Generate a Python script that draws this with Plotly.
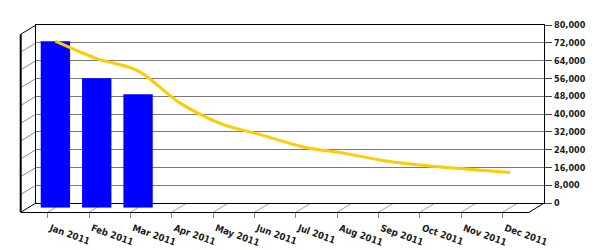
import plotly.graph_objects as go

months = ["Jan 2011", "Feb 2011", "Mar 2011", "Apr 2011", "May 2011", "Jun 2011",
          "Jul 2011", "Aug 2011", "Sep 2011", "Oct 2011", "Nov 2011", "Dec 2011"]
bar_values = [74800, 58200, 51000]
line_values = [74800, 67000, 61500, 47200, 37800, 32600, 27300, 24400, 21000, 18800, 17300, 15800]
y_ticks = list(range(0, 80001, 8000))

W, H = 600, 250
# pseudo-3D geometry (pixels)
BACK_L, BACK_R, BACK_T, BACK_B = 36.0, 544.3, 25.0, 203.0
DX, DY = 15.3, 9.3          # depth offset back -> front
XR = [-0.654, 11.642]       # category range shared by all x axes
YMAX = 80000

def px(x):
    return x / W

def py(y):
    return 1 - y / H

FRONT_L, FRONT_R, FRONT_B = BACK_L - DX, BACK_R - DX, BACK_B + DY
MID_L, MID_R = BACK_L - DX / 2, BACK_R - DX / 2
MID_T, MID_B = BACK_T + DY / 2, BACK_B + DY / 2

idx = list(range(len(months)))
yfont = dict(family="DejaVu Sans Condensed, DejaVu Sans", size=9, color="#1a1a1a", weight="bold")
xfont = dict(family="DejaVu Sans Condensed, DejaVu Sans", size=9.5, color="#1a1a1a", weight="bold")

fig = go.Figure()
# invisible anchor traces so the back-plane and front-floor axes are drawn
fig.add_trace(go.Scatter(x=[0.5], y=[0], mode="markers", marker=dict(opacity=0), xaxis="x", yaxis="y", hoverinfo="skip"))
fig.add_trace(go.Scatter(x=[0], y=[0], mode="markers", marker=dict(opacity=0), xaxis="x3", yaxis="y3", hoverinfo="skip"))
fig.add_trace(go.Bar(x=idx[:len(bar_values)], y=bar_values, marker=dict(color="#0000FF", line=dict(width=0)),
                     width=0.71, xaxis="x2", yaxis="y2", hoverinfo="skip"))
fig.add_trace(go.Scatter(x=idx, y=line_values, mode="lines", line=dict(color="#FFCC00", width=3, shape="spline", smoothing=0.9),
                         xaxis="x2", yaxis="y2", hoverinfo="skip"))

shapes = []
black = dict(color="black", width=1)
gray = dict(color="#8c8c8c", width=1)

def seg(x0, y0, x1, y1, line, layer="below"):
    shapes.append(dict(type="line", xref="paper", yref="paper", x0=px(x0), y0=py(y0), x1=px(x1), y1=py(y1),
                       line=line, layer=layer))

# left wall gridlines
for v in y_ticks[1:-1]:
    yb = BACK_B - v / YMAX * (BACK_B - BACK_T)
    seg(FRONT_L, yb + DY, BACK_L, yb, gray)
# floor diagonals at category ticks
scale = (FRONT_R - FRONT_L) / (XR[1] - XR[0])
for k in idx:
    xf = FRONT_L + (k - XR[0]) * scale
    seg(xf, FRONT_B, xf + DX, BACK_B, dict(color="#a0a0a0", width=1))
# wall / floor outlines
seg(FRONT_L, BACK_T + DY, FRONT_L, FRONT_B, dict(color="black", width=2), "above")
seg(FRONT_L, BACK_T + DY, BACK_L, BACK_T, black, "above")
seg(FRONT_L, FRONT_B, BACK_L, BACK_B, black, "above")
seg(FRONT_R, FRONT_B, BACK_R, BACK_B, black, "above")

fig.update_layout(
    width=W, height=H, margin=dict(l=0, r=0, t=0, b=0, pad=0, autoexpand=False),
    paper_bgcolor="white", plot_bgcolor="rgba(0,0,0,0)",
    showlegend=False, shapes=shapes, font=yfont,
    # back plane
    xaxis=dict(domain=[px(BACK_L), px(BACK_R)], range=[0, 1], anchor="y", showgrid=False, zeroline=False,
               showticklabels=False, ticks="", showline=True, linecolor="black", linewidth=1, mirror=True,
               fixedrange=True, automargin=False),
    yaxis=dict(domain=[py(BACK_B), py(BACK_T)], range=[0, YMAX], anchor="x", side="right",
               tickmode="array", tickvals=y_ticks, ticktext=[f"{v:,}" for v in y_ticks],
               showgrid=True, gridcolor="#7a7a7a", gridwidth=1, zeroline=False,
               showline=True, linecolor="black", linewidth=1, mirror=True,
               ticks="outside", ticklen=7, tickcolor="#444", tickfont=yfont, fixedrange=True, automargin=False),
    # data (mid-depth) plane
    xaxis2=dict(domain=[px(MID_L), px(MID_R)], range=XR, anchor="y2", visible=False, fixedrange=True, automargin=False),
    yaxis2=dict(domain=[py(MID_B), py(MID_T)], range=[0, YMAX], anchor="x2", visible=False, fixedrange=True, automargin=False),
    # front floor axis for category labels
    xaxis3=dict(domain=[px(FRONT_L), px(FRONT_R)], range=XR, anchor="y3", tickmode="array",
                tickvals=idx, ticktext=months, tickangle=20, ticks="outside", ticklen=5, tickcolor="#888",
                showline=True, linecolor="black", linewidth=1, showgrid=False, zeroline=False,
                ticklabelshift=3, ticklabelstandoff=1,
                tickfont=xfont, fixedrange=True, automargin=False),
    yaxis3=dict(domain=[py(FRONT_B), py(BACK_T)], range=[0, 1], anchor="x3", visible=False, fixedrange=True, automargin=False),
)

fig.write_html("out.html")
